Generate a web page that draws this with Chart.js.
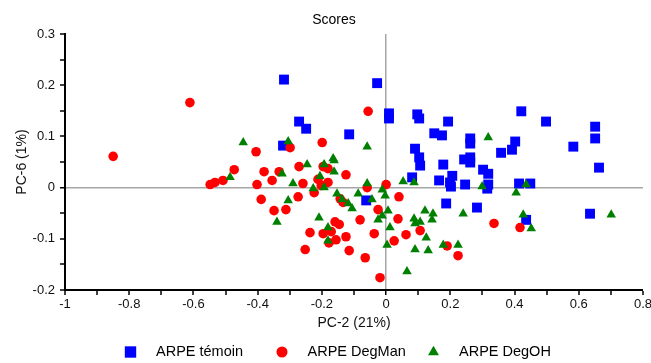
<!DOCTYPE html>
<html>
<head>
<meta charset="utf-8">
<title>Scores</title>
<script src="https://cdn.jsdelivr.net/npm/chart.js@4.4.1/dist/chart.umd.min.js"></script>
<style>
    html, body { margin: 0; padding: 0; background: #fff; }
    #wrap { width: 651px; height: 363px; }
</style>
</head>
<body>
<div id="wrap"><canvas id="scoresChart" width="651" height="363"></canvas></div>
<script>
// PC-2 / PC-6 scores
const temoinX = [-0.318, -0.028, -0.271, -0.249, -0.115, -0.321, 0.009, 0.009, 0.097, 0.103, 0.193, 0.421, 0.498, 0.150, 0.174, 0.262, 0.262, 0.402, 0.392, 0.358, 0.583, 0.090, 0.103, 0.106, 0.178, 0.243, 0.262, 0.262, 0.302, 0.318, 0.081, 0.165, 0.206, 0.199, 0.202, 0.246, 0.318, 0.315, 0.414, 0.449, 0.651, 0.651, 0.663, 0.635, 0.436, 0.187, 0.283, -0.062];
const temoinY = [0.211, 0.204, 0.129, 0.115, 0.104, 0.082, 0.145, 0.135, 0.143, 0.135, 0.129, 0.149, 0.129, 0.106, 0.102, 0.096, 0.086, 0.090, 0.074, 0.068, 0.080, 0.076, 0.059, 0.043, 0.045, 0.055, 0.059, 0.049, 0.035, 0.027, 0.020, 0.014, 0.023, 0.010, 0.002, 0.006, 0.006, -0.002, 0.008, 0.008, 0.119, 0.096, 0.039, -0.051, -0.063, -0.031, -0.039, -0.025];

const degManX = [-0.850, -0.611, -0.548, -0.533, -0.508, -0.473, -0.405, -0.380, -0.402, -0.355, -0.389, -0.333, -0.299, -0.271, -0.259, -0.274, -0.199, -0.212, -0.202, -0.224, -0.181, -0.196, -0.181, -0.125, -0.059, 0.000, -0.056, -0.143, -0.134, -0.349, -0.312, -0.159, -0.146, -0.237, -0.196, -0.171, -0.156, -0.125, -0.178, -0.081, -0.025, -0.037, -0.252, -0.115, -0.065, -0.019, 0.040, 0.037, 0.106, 0.062, 0.025, 0.190, 0.224, 0.336, 0.417];
const degManY = [0.061, 0.166, 0.006, 0.010, 0.014, 0.035, 0.070, 0.031, 0.006, 0.014, -0.023, 0.031, 0.078, 0.041, 0.008, -0.018, 0.088, 0.016, 0.004, -0.010, 0.010, 0.041, 0.037, 0.025, 0.000, 0.006, 0.149, -0.022, -0.029, -0.045, -0.043, -0.067, -0.072, -0.088, -0.090, -0.086, -0.102, -0.096, -0.108, -0.063, -0.043, -0.090, -0.121, -0.123, -0.137, -0.176, -0.018, -0.061, -0.084, -0.092, -0.104, -0.114, -0.133, -0.070, -0.078];

const degOhX = [-0.445, -0.305, -0.059, -0.165, -0.486, -0.324, -0.246, -0.193, -0.162, -0.162, -0.206, -0.290, -0.227, -0.193, -0.153, -0.137, -0.118, -0.087, -0.059, -0.106, -0.044, -0.012, -0.003, -0.305, -0.340, -0.209, -0.181, -0.181, -0.025, -0.012, 0.006, 0.003, 0.012, 0.053, 0.087, 0.299, 0.405, 0.436, 0.087, 0.106, 0.090, 0.121, 0.146, 0.143, 0.240, 0.125, 0.090, 0.131, 0.178, 0.224, 0.065, 0.427, 0.452, 0.701, 0.318];
const degOhY = [0.088, 0.090, 0.080, 0.057, 0.020, 0.027, 0.045, 0.045, 0.053, 0.031, 0.022, 0.008, -0.002, 0.000, -0.012, -0.023, -0.031, -0.012, 0.008, -0.041, -0.023, -0.004, -0.016, -0.025, -0.067, -0.059, -0.078, -0.104, -0.063, -0.055, -0.045, -0.112, -0.078, 0.012, 0.010, 0.002, -0.010, 0.006, -0.061, -0.067, -0.070, -0.045, -0.051, -0.063, -0.051, -0.098, -0.121, -0.123, -0.112, -0.112, -0.164, -0.053, -0.080, -0.053, 0.098];

const seriesNames = ['ARPE témoin', 'ARPE DegMan', 'ARPE DegOH'];
const xTickLabels = [-1, -0.8, -0.6, -0.4, -0.2, 0, 0.2, 0.4, 0.6, 0.8];
const yTickLabels = [-0.2, -0.1, 0, 0.1, 0.2, 0.3];

const FONT = '"Liberation Sans", Arial, sans-serif';

const toPoints = (xs, ys) => xs.map((x, i) => ({ x: x, y: ys[i] }));

function majorLabel(list) {
    return value => {
        const hit = list.find(v => Math.abs(v - value) < 1e-6);
        return hit === undefined ? '' : String(hit);
    };
}

function axisGrid() {
    // only the zero line is drawn inside the plot
    const isZero = ctx => ctx.tick && Math.abs(ctx.tick.value) < 1e-9;
    return {
        drawOnChartArea: true,
        color: ctx => isZero(ctx) ? '#a6a6a6' : 'rgba(0,0,0,0)',
        lineWidth: ctx => isZero(ctx) ? 1.5 : 0,
        tickColor: '#000',
        tickWidth: 1.5,
        tickLength: 5
    };
}

// legend row under the axis title, equal slots
const legendRow = {
    id: 'legendRow',
    afterDraw(chart) {
        const ctx = chart.ctx;
        const y = 352;
        ctx.save();
        ctx.font = '14.5px ' + FONT;
        ctx.textBaseline = 'middle';
        ctx.textAlign = 'left';
        chart.data.datasets.forEach((ds, i) => {
            const x = 130.5 + i * 151.5;
            ctx.fillStyle = ds.backgroundColor;
            Chart.helpers.drawPoint(ctx, {
                pointStyle: ds.pointStyle,
                radius: ds.pointRadius * 1.15,
                rotation: 0,
                borderWidth: 0
            }, x, y);
            ctx.fillStyle = '#000';
            ctx.fillText(ds.label, x + 25.5, y);
        });
        ctx.restore();
    }
};

const ctx = document.getElementById('scoresChart').getContext('2d');
const chart = new Chart(ctx, {
    type: 'scatter',
    data: {
        datasets: [
            {
                label: seriesNames[0],
                data: toPoints(temoinX, temoinY),
                pointStyle: 'rect',
                pointRadius: 7,
                backgroundColor: '#0000ff',
                borderWidth: 0,
                order: 3
            },
            {
                label: seriesNames[1],
                data: toPoints(degManX, degManY),
                pointStyle: 'circle',
                pointRadius: 4.8,
                backgroundColor: '#ff0000',
                borderWidth: 0,
                order: 2
            },
            {
                label: seriesNames[2],
                data: toPoints(degOhX, degOhY),
                pointStyle: 'triangle',
                pointRadius: 5.5,
                backgroundColor: '#008000',
                borderWidth: 0,
                order: 1
            }
        ]
    },
    options: {
        responsive: false,
        animation: false,
        devicePixelRatio: 1,
        layout: { padding: { left: 25, right: 8, top: 0, bottom: 31.6 } },
        plugins: {
            legend: { display: false },
            tooltip: { enabled: false },
            title: {
                display: true,
                text: 'Scores',
                color: '#000',
                font: { family: FONT, size: 14, weight: 'normal' },
                padding: { top: 11.6, bottom: 5.6 }
            }
        },
        scales: {
            x: {
                type: 'linear',
                min: -1,
                max: 0.8,
                border: { display: true, color: '#000', width: 2 },
                grid: axisGrid(),
                ticks: {
                    stepSize: 0.1,
                    autoSkip: false,
                    maxRotation: 0,
                    padding: 2,
                    color: '#111',
                    font: { family: FONT, size: 13 },
                    callback: majorLabel(xTickLabels)
                },
                title: {
                    display: true,
                    text: 'PC-2 (21%)',
                    color: '#111',
                    font: { family: FONT, size: 14 },
                    padding: { top: 0, bottom: 0 }
                },
                afterFit(scale) {
                    scale.height = 41.4;
                    scale.paddingLeft = 0;
                    scale.paddingRight = 0;
                }
            },
            y: {
                type: 'linear',
                min: -0.2,
                max: 0.3,
                border: { display: true, color: '#000', width: 2 },
                grid: axisGrid(),
                ticks: {
                    stepSize: 0.05,
                    autoSkip: false,
                    padding: 5,
                    color: '#111',
                    font: { family: FONT, size: 13 },
                    callback: majorLabel(yTickLabels)
                },
                title: {
                    display: true,
                    text: 'PC-6 (1%)',
                    color: '#111',
                    font: { family: FONT, size: 14 },
                    padding: { top: -11.4, bottom: 0 }
                },
                afterFit(scale) {
                    scale.width = 40;
                    scale.paddingTop = 0;
                    scale.paddingBottom = 0;
                }
            }
        }
    },
    plugins: [legendRow]
});
</script>
</body>
</html>
